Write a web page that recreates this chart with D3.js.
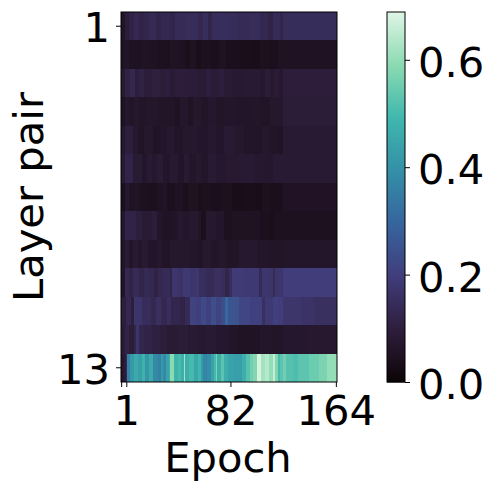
<!DOCTYPE html>
<html>
<head>
<meta charset="utf-8">
<script src="https://cdn.jsdelivr.net/npm/d3@7"></script>
<style>
html, body { margin: 0; padding: 0; background: #fff; }
text { font-family: "DejaVu Sans"; fill: #000; }
</style>
</head>
<body>
<svg width="491" height="491"></svg>
<script>
// seaborn mako, sampled
const makoStops = [0, 0.0714, 0.1429, 0.2857, 0.4286, 0.5714, 0.7143, 0.8571, 1];
const makoColors = ["#0b0405", "#1f1222", "#2e1e3c", "#413d7b", "#37659e", "#348fa7", "#40b7ad", "#8bdab2", "#def5e5"];

const nColumns = 168;
const maxValue = 0.689;

const xTickColumns = [0, 4, 85, 167];
const xTickLabels = ["", "1", "82", "164"];
const yTickRows = [0, 12];
const yTickLabels = ["1", "13"];
const colorTicks = [0, 0.2, 0.4, 0.6];

// every row is a list of [first column, value], a value holds until the next pair
const row1 = [[0,.06],[3,.09],[6,.115],[10,.13],[14,.115],[18,.125],[22,.135],[27,.12],[31,.13],[38,.12],[42,.14],[50,.145],[60,.13],[64,.15],[68,.12],[71,.145],[76,.15],[82,.145],[90,.14],[100,.145],[108,.13],[114,.115],[118,.14],[124,.125],[126,.145]];
const row2 = [[0,.05],[2,.06],[6,.05],[10,.047],[16,.053],[22,.05],[28,.045],[36,.042],[38,.053],[44,.05],[50,.038],[54,.05],[58,.034],[62,.045],[70,.04],[76,.048],[82,.04],[92,.036],[102,.032],[108,.045],[115,.04],[122,.05]];
const row3 = [[0,.08],[3,.11],[7,.13],[11,.1],[14,.11],[18,.095],[24,.105],[30,.09],[34,.1],[38,.085],[42,.095],[50,.092],[60,.085],[66,.1],[70,.088],[76,.1],[80,.085],[86,.078],[95,.08],[108,.068],[112,.09],[116,.072],[119,.088],[123,.072],[126,.095]];
const row4 = [[0,.05],[3,.07],[6,.06],[10,.068],[14,.06],[20,.067],[28,.06],[36,.06],[42,.05],[46,.067],[52,.055],[56,.068],[62,.06],[68,.07],[74,.06],[80,.065],[90,.062],[100,.065],[108,.058],[116,.068],[126,.09]];
const row5 = [[0,.07],[3,.1],[9,.075],[13,.058],[18,.068],[25,.055],[30,.065],[36,.072],[41,.062],[48,.068],[55,.075],[60,.065],[68,.075],[74,.065],[80,.08],[88,.068],[96,.062],[104,.058],[110,.068],[116,.06],[123,.055],[126,.08]];
const row6 = [[0,.08],[3,.115],[9,.08],[13,.085],[16,.065],[20,.08],[24,.07],[28,.085],[33,.065],[38,.078],[44,.062],[49,.08],[53,.065],[58,.075],[62,.065],[68,.082],[74,.07],[82,.078],[92,.08],[104,.075],[112,.07],[118,.08]];
const row7 = [[0,.04],[3,.07],[6,.05],[10,.056],[14,.045],[22,.042],[28,.05],[32,.056],[36,.042],[42,.05],[48,.038],[52,.048],[60,.037],[64,.045],[70,.04],[78,.045],[86,.033],[96,.036],[104,.033],[110,.045],[116,.04],[126,.055]];
const row8 = [[0,.07],[3,.115],[12,.1],[16,.085],[24,.095],[28,.065],[32,.055],[40,.06],[44,.075],[48,.065],[54,.072],[60,.06],[62,.04],[66,.075],[74,.065],[80,.045],[86,.048],[100,.05],[108,.042],[116,.034],[120,.045]];
const row9 = [[0,.06],[3,.085],[6,.062],[9,.08],[13,.065],[16,.082],[21,.062],[28,.07],[32,.058],[38,.068],[46,.068],[54,.065],[60,.056],[64,.072],[70,.06],[76,.068],[82,.06],[92,.072],[106,.065],[116,.06],[126,.065]];
const row10 = [[0,.06],[3,.13],[6,.115],[9,.14],[14,.12],[18,.135],[22,.13],[26,.11],[29,.13],[33,.14],[38,.12],[40,.175],[44,.165],[48,.185],[54,.17],[58,.18],[61,.15],[66,.14],[72,.155],[78,.145],[81,.12],[84,.15],[86,.19],[96,.185],[107,.14],[110,.175],[115,.17],[118,.14],[120,.175],[126,.195]];
const row11 = [[0,.1],[4,.13],[8,.1],[10,.17],[16,.145],[23,.13],[27,.155],[31,.13],[36,.15],[39,.125],[46,.115],[50,.14],[54,.215],[58,.2],[62,.23],[66,.205],[70,.24],[74,.215],[78,.235],[81,.3],[83,.255],[88,.25],[92,.22],[100,.205],[110,.155],[112,.185],[118,.205],[122,.195],[126,.175],[140,.165],[150,.155]];
const row12 = [[0,.09],[3,.115],[6,.09],[10,.125],[12,.17],[14,.125],[18,.115],[24,.105],[30,.095],[36,.085],[44,.09],[52,.08],[60,.075],[66,.08],[74,.07],[84,.06],[92,.052],[100,.055],[108,.065],[118,.06],[126,.07],[145,.075]];
const row13 = [[0,.07],[2,.09],[4,.13],[5,.36],[7,.42],[10,.46],[13,.43],[16,.48],[19,.41],[22,.46],[25,.38],[29,.36],[31,.42],[33,.38],[35,.44],[37,.47],[38,.59],[41,.48],[44,.5],[47,.47],[49,.62],[50,.47],[53,.5],[57,.45],[60,.49],[62,.42],[64,.37],[67,.39],[70,.44],[72,.5],[74,.57],[75,.47],[78,.53],[80,.47],[83,.44],[87,.43],[94,.47],[97,.52],[100,.56],[103,.58],[106,.68],[109,.62],[112,.64],[115,.6],[118,.66],[120,.58],[122,.5],[124,.53],[126,.56],[128,.52],[134,.51],[138,.53],[146,.55],[154,.57],[160,.6]];
const rows = [row1, row2, row3, row4, row5, row6, row7, row8, row9, row10, row11, row12, row13];

const svg = d3.select("svg");
const fontSize = 41.67;

const x = d3.scaleBand().domain(d3.range(nColumns)).range([121, 337]);
const y = d3.scaleBand().domain(d3.range(rows.length)).range([12, 382]);
const color = d3.scaleLinear()
    .domain(makoStops.map(t => t * maxValue))
    .range(makoColors)
    .interpolate(d3.interpolateRgb);

// runs -> one value per column
const cells = [];
rows.forEach((runs, r) => {
    runs.forEach((run, i) => {
        const end = i + 1 < runs.length ? runs[i + 1][0] : nColumns;
        for (let c = run[0]; c < end; c++) cells.push({ r: r, c: c, v: run[1] });
    });
});

// drawn left to right and top to bottom, each cell runs a bit under the next one so no seams show
svg.append("g").selectAll("rect").data(cells).enter().append("rect")
    .attr("x", d => x(d.c))
    .attr("y", d => y(d.r))
    .attr("width", d => d.c == nColumns - 1 ? x.bandwidth() : x.bandwidth() + 1)
    .attr("height", y.bandwidth())
    .attr("shape-rendering", "crispEdges")
    .attr("fill", d => color(d.v));

var xAxis = svg.append("g").attr("transform", "translate(0,382)")
    .call(d3.axisBottom(x).tickValues(xTickColumns).tickSize(5).tickPadding(8)
        .tickFormat((d, i) => xTickLabels[i]));
var yAxis = svg.append("g").attr("transform", "translate(121,0)")
    .call(d3.axisLeft(y).tickValues(yTickRows).tickSize(5).tickPadding(6)
        .tickFormat((d, i) => yTickLabels[i]));

// colorbar
const cbY = d3.scaleLinear().domain([0, maxValue]).range([382, 12]);
const cbSteps = d3.range(0, 370);
svg.append("g").selectAll("rect").data(cbSteps).enter().append("rect")
    .attr("x", 387).attr("width", 18)
    .attr("y", d => 381 - d).attr("height", 1.5)
    .attr("fill", d => color(cbY.invert(381.5 - d)));
var cbAxis = svg.append("g").attr("transform", "translate(405,0)")
    .call(d3.axisRight(cbY).tickValues(colorTicks).tickSize(5).tickPadding(8).tickFormat(d3.format(".1f")));
svg.append("rect").attr("x", 387).attr("y", 12).attr("width", 18).attr("height", 370)
    .attr("fill", "none").attr("stroke", "#000").attr("stroke-width", 1);

[xAxis, yAxis, cbAxis].forEach(a => {
    a.selectAll("text").attr("font-size", fontSize).attr("font-family", "DejaVu Sans");
    a.selectAll("line").attr("stroke-width", 1);
    a.select(".domain").remove();
});
xAxis.selectAll("text").attr("dy", "0.71em");
yAxis.selectAll("text").attr("dy", "0.39em");
cbAxis.selectAll("text").attr("dy", "0.4em");

svg.append("rect").attr("x", 121).attr("y", 12).attr("width", 216).attr("height", 370)
    .attr("fill", "none").attr("stroke", "#000").attr("stroke-width", 1);

svg.append("text").attr("x", 228).attr("y", 472).attr("text-anchor", "middle")
    .attr("font-size", fontSize).text("Epoch");
svg.append("text").attr("transform", "translate(43,197) rotate(-90)").attr("text-anchor", "middle")
    .attr("font-size", fontSize).text("Layer pair");
</script>
</body>
</html>
